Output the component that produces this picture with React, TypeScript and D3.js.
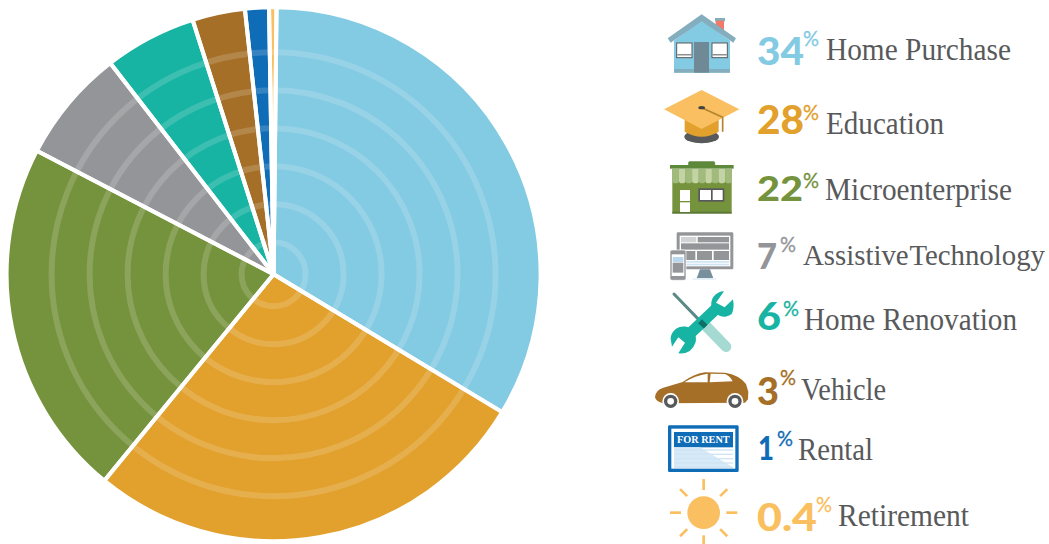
import React from "react";
import * as d3 from "d3";

const categories = ["Home Purchase", "Education", "Microenterprise", "Assistive Technology", "Home Renovation", "Vehicle", "Rental", "Retirement"];
const percentLabels = ["34", "28", "22", "7", "6", "3", "1", "0.4"];
const sliceShares = [33.6, 27.4, 21.8, 6.9, 5.6, 3.2, 1.45, 0.45];
const colors = ["#83cae3", "#e2a02d", "#75923c", "#939598", "#17b3a3", "#a56f28", "#0f6cb6", "#f9bf60"];
const ringRadii = [32, 70, 108, 146, 184, 222];

// legend layout: [number left, number right, number baseline, number height, pct left, pct baseline, label left, label right, label baseline, label size]
const legendLayout = [
  [757, 804, 65, 28, 803, 46, 826, 1011, 60, 31],
  [757, 804, 134, 29, 803, 120, 826, 944, 134, 31],
  [757, 803, 201, 24, 803, 188, 825, 1012, 200, 31],
  [757, 777, 269, 26, 780, 252, 803, 1045, 265, 29],
  [757, 781, 330, 28, 783, 316, 804, 1017, 330, 31],
  [757, 779, 405, 28, 780, 385, 801, 886, 400, 31],
  [758, 774, 460, 23, 777, 446, 798, 873, 460, 31],
  [757, 817, 531, 28, 816, 512, 838, 969, 526, 31],
];

const cx = 273.6, cy = 274.2, R = 267;
const TAU = Math.PI * 2;
const startAngle = 0.011;

const Z = ({ x, y, children }: any) => <g transform={`translate(${x},${y}) scale(0.3333)`}>{children}</g>;

const House = () => (
  <Z x={650} y={0}>
    <rect x={195} y={54} width={30} height={10} fill="#84aebd" />
    <rect x={197} y={62} width={25} height={32} fill="#f27a68" />
    <polygon points="155,60 72,122 72,218 240,218 240,122" fill="#83cae3" />
    <rect x={72} y={207} width={168} height={11} fill="#84aebd" />
    <polygon points="155,43 258,115 250,128 155,64 62,128 53,115" fill="#84aebd" />
    <rect x={132} y={126} width={45} height={92} fill="#6f8a96" />
    <rect x={80} y={129} width={46} height={44} fill="#fff" stroke="#58595b" strokeWidth={3} />
    <rect x={186} y={129} width={46} height={44} fill="#fff" stroke="#58595b" strokeWidth={3} />
    <rect x={82} y={163} width={42} height={3} fill="#58595b" />
    <rect x={188} y={163} width={42} height={3} fill="#58595b" />
  </Z>
);

const Cap = () => (
  <Z x={650} y={0}>
    <ellipse cx={155} cy={410} rx={52} ry={20} fill="#58595b" />
    <path d="M104,350 L206,350 L206,395 Q155,425 104,395 Z" fill="#e2a02d" />
    <polygon points="155,270 268,328 155,387 42,328" fill="#f9bf60" />
    <path d="M155,323 L218,352 L218,395" fill="none" stroke="#b5832e" strokeWidth={5} />
    <ellipse cx={155} cy={323} rx={10} ry={5} fill="#414042" />
  </Z>
);

const Store = () => (
  <Z x={650} y={150}>
    <rect x={67} y={57} width={178} height={133} fill="#75923c" />
    <rect x={67} y={185} width={178} height={6} fill="#5d7a3a" />
    {d3.range(9).map((i) => (
      <path key={i} d={`M${67 + i * 19.8},57 h19.8 v36 a9.9,7 0 0 1 -19.8,0 Z`} fill={i % 2 ? "#c4d3a4" : "#a1bb7c"} />
    ))}
    <rect x={116} y={35} width={78} height={16} rx={3} fill="#5d8a3a" stroke="#4f7331" strokeWidth={2} />
    <rect x={60} y={45} width={191} height={11} fill="#5d8a3a" />
    <rect x={90} y={120} width={30} height={33} fill="#fff" />
    <rect x={90} y={157} width={30} height={29} fill="#fff" />
    <rect x={145} y={115} width={78} height={40} fill="#58595b" />
    <rect x={150} y={120} width={33} height={30} fill="#fff" />
    <rect x={188} y={120} width={30} height={30} fill="#fff" />
  </Z>
);

const Monitor = () => (
  <Z x={650} y={150}>
    <polygon points="150,358 180,358 190,385 140,385" fill="#78909c" />
    <rect x={128} y={385} width={70} height={5} fill="#e6f1f8" />
    <rect x={80} y={247} width={170} height={111} rx={4} fill="#939598" />
    <rect x={89} y={257} width={152} height={92} fill="#fff" />
    <rect x={93} y={261} width={46} height={16} fill="#d1d3d4" />
    <rect x={143} y={261} width={94} height={16} fill="#939598" />
    <rect x={93} y={280} width={144} height={19} fill="#939598" />
    <rect x={93} y={303} width={43} height={27} fill="#939598" />
    <rect x={141} y={303} width={45} height={27} fill="#939598" />
    <rect x={191} y={303} width={46} height={27} fill="#939598" />
    <rect x={93} y={333} width={144} height={5} fill="#cfe4f3" />
    <rect x={93} y={341} width={144} height={5} fill="#cfe4f3" />
    <rect x={60} y={300} width={48} height={91} rx={6} fill="#939598" stroke="#fff" strokeWidth={2} />
    <rect x={65} y={313} width={38} height={65} fill="#fff" />
    <rect x={68} y={321} width={32} height={15} fill="#b9d8ee" />
    <rect x={68} y={338} width={32} height={30} fill="#939598" />
  </Z>
);

const Tools = () => (
  <Z x={650} y={150}>
    <line x1={165} y1={525} x2={228} y2={590} stroke="#a5dad3" strokeWidth={32} strokeLinecap="round" />
    <line x1={72} y1={432} x2={155} y2={518} stroke="#5b8a85" strokeWidth={9} strokeLinecap="round" />
    <line x1={205} y1={470} x2={105} y2={565} stroke="#17b3a3" strokeWidth={34} />
    <path d="M222,424 A38,38 0 1 0 245,492 Q254,475 249,448 L224,472 L198,458 Z" fill="#17b3a3" />
    <path d="M62,566 A38,38 0 1 1 137,576 Q125,614 85,610 L105,578 L85,562 L66,590 Z" fill="#17b3a3" />
    <line x1={150} y1={514} x2={167} y2={530} stroke="#0e6f66" strokeWidth={16} />
  </Z>
);

const Car = () => (
  <Z x={650} y={360}>
    <path d="M15,112 Q16,90 40,83 L98,66 Q135,40 165,37 L225,38 Q268,45 288,72 L295,95 L294,118 L285,128 L40,130 Q18,125 15,112 Z" fill="#a56f28" />
    <path d="M103,67 Q135,46 173,41 L173,67 Z M182,41 L225,42 Q240,48 248,64 L179,67 Z" fill="#fff" />
    <circle cx={62} cy={124} r={25} fill="#fff" />
    <circle cx={62} cy={124} r={20} fill="#58595b" />
    <circle cx={62} cy={124} r={10} fill="#fff" />
    <circle cx={255} cy={124} r={25} fill="#fff" />
    <circle cx={255} cy={124} r={20} fill="#58595b" />
    <circle cx={255} cy={124} r={10} fill="#fff" />
  </Z>
);

const RentSign = () => (
  <Z x={650} y={360}>
    <rect x={54} y={196} width={212} height={140} rx={4} fill="#0f6cb6" />
    <rect x={64} y={206} width={192} height={120} fill="#fff" />
    <rect x={72} y={216} width={177} height={46} fill="#0f6cb6" />
    <polygon points="72,262 150,262 249,322 72,322" fill="#d6e9f7" />
    {[268, 281, 294, 307, 320].map((y) => (
      <rect key={y} x={72} y={y} width={177} height={4} fill="#cfe4f5" />
    ))}
    <text x={160} y={248} textAnchor="middle" fontFamily="'Liberation Serif'" fontWeight={700} fontSize={30} fill="#fff" textLength={158} lengthAdjust="spacingAndGlyphs">FOR RENT</text>
  </Z>
);

const Sun = () => (
  <Z x={650} y={360}>
    <circle cx={161} cy={458} r={49} fill="#f9bf60" />
    {d3.range(8).map((i) => {
      const a = (i * Math.PI) / 4;
      const long = i % 2 === 0;
      const r1 = long ? 68 : 70, r2 = long ? 101 : 100;
      return (
        <line key={i} x1={161 + r1 * Math.cos(a)} y1={458 + r1 * Math.sin(a)} x2={161 + r2 * Math.cos(a)} y2={458 + r2 * Math.sin(a)} stroke="#f9bf60" strokeWidth={8} />
      );
    })}
  </Z>
);

export default function App() {
  const pie = d3.pie<number>().sort(null).startAngle(startAngle).endAngle(TAU + startAngle);
  const arcs = pie(sliceShares);
  const arc = d3.arc<any>().innerRadius(0).outerRadius(R);
  return (
    <svg width={1049} height={544} style={{ position: "absolute", left: 0, top: 0, background: "#fff" }}>
      <g transform={`translate(${cx},${cy})`}>
        {arcs.map((a, i) => <path key={i} d={arc(a) as string} fill={colors[i]} />)}
        {ringRadii.map((r) => <circle key={r} r={r} fill="none" stroke="#fff" strokeOpacity={0.16} strokeWidth={6} />)}
        {arcs.map((a, i) => <path key={i} d={arc(a) as string} fill="none" stroke="#fff" strokeWidth={4} strokeLinejoin="round" />)}
      </g>
      <House /><Cap /><Store /><Monitor /><Tools /><Car /><RentSign /><Sun />
      {categories.map((c, i) => {
        const [nl, nr, nb, nh, pl, pb, ll, lr, lb, ls] = legendLayout[i];
        const numberSize = nh / 0.72;
        return (
          <g key={c}>
            <text x={nl} y={nb} fontFamily="Lato" fontWeight={900} fontSize={numberSize} fill={colors[i]} textLength={nr - nl} lengthAdjust="spacingAndGlyphs">{percentLabels[i]}</text>
            <text x={pl} y={pb} fontFamily="Lato" fontWeight={400} fontSize={21} fill={colors[i]} stroke={colors[i]} strokeWidth={0.3} textLength={16} lengthAdjust="spacingAndGlyphs">%</text>
            <text x={ll} y={lb} fontFamily="'Liberation Serif'" fontSize={ls} fill="#58595b" textLength={lr - ll} lengthAdjust="spacingAndGlyphs" wordSpacing={i === 3 ? -6 : 0}>{c}</text>
          </g>
        );
      })}
    </svg>
  );
}
